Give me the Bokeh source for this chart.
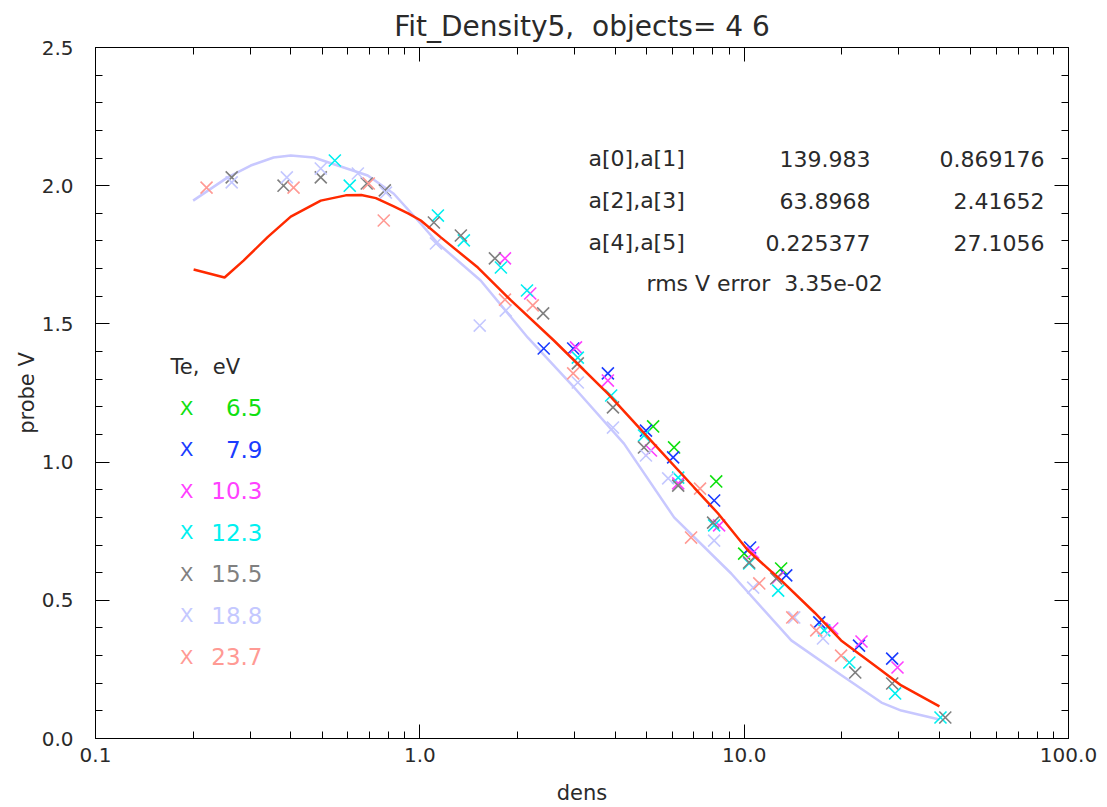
from bokeh.plotting import figure
from bokeh.models import Range1d, FixedTicker, PrintfTickFormatter, LinearAxis, LogAxis, Label
from bokeh.embed import file_html
from bokeh.resources import INLINE

# ---------------- data ----------------
TITLE = "Fit_Density5,\u00a0 objects= 4 6"
X_LABEL = "dens"
Y_LABEL = "probe V"
LEGEND_TITLE = "Te,\u00a0 eV"
TE_LABELS = ["6.5", "7.9", "10.3", "12.3", "15.5", "18.8", "23.7"]
COLORS = ["#10e010", "#1a3cff", "#ff40ff", "#00f0f0", "#808080", "#c4c8ff", "#ff9a94"]

X_TICKS = [0.1, 1.0, 10.0, 100.0]
Y_TICKS = [0.0, 0.5, 1.0, 1.5, 2.0, 2.5]

DENS_65 = [5.24, 6.08, 8.20, 10.0, 13.0]
V_65 = [1.129, 1.053, 0.930, 0.669, 0.615]

DENS_79 = [2.41, 2.97, 3.80, 4.98, 6.04, 8.08, 10.43, 13.48, 17.04, 22.6, 28.6]
V_79 = [1.411, 1.411, 1.321, 1.114, 1.017, 0.861, 0.691, 0.590, 0.420, 0.336, 0.289]

DENS_103 = [1.83, 2.19, 3.03, 3.80, 5.16, 6.26, 8.37, 10.66, 12.73, 18.69, 23.0, 29.7]
V_103 = [1.737, 1.610, 1.415, 1.295, 1.042, 0.923, 0.771, 0.673, 0.583, 0.398, 0.351, 0.257]

DENS_123 = [0.547, 0.608, 1.137, 1.367, 1.778, 2.14, 3.07, 3.89, 4.91, 6.26, 8.08, 10.36, 12.73, 17.66, 21.1, 29.2, 40.3]
V_123 = [2.091, 2.000, 1.892, 1.802, 1.704, 1.621, 1.378, 1.241, 1.096, 0.944, 0.771, 0.633, 0.535, 0.391, 0.275, 0.163, 0.076]

DENS_155 = [0.263, 0.380, 0.495, 0.686, 0.780, 1.105, 1.338, 1.704, 2.40, 3.07, 3.94, 4.91, 6.26, 8.02, 10.36, 12.56, 22.0, 28.6, 41.7]
V_155 = [2.030, 2.000, 2.030, 2.008, 1.983, 1.867, 1.820, 1.737, 1.538, 1.357, 1.198, 1.053, 0.915, 0.781, 0.637, 0.579, 0.239, 0.199, 0.076]

DENS_188 = [0.263, 0.389, 0.495, 0.644, 0.786, 1.121, 1.53, 1.84, 3.07, 3.94, 4.98, 5.83, 8.08, 10.66, 14.27, 17.5]
V_188 = [2.012, 2.030, 2.062, 2.044, 1.975, 1.791, 1.494, 1.548, 1.288, 1.125, 1.024, 0.941, 0.716, 0.546, 0.438, 0.362]

DENS_237 = [0.220, 0.408, 0.696, 0.774, 1.83, 2.23, 2.97, 6.86, 7.31, 11.13, 14.07, 16.68, 19.9]
V_237 = [1.993, 1.993, 2.008, 1.874, 1.588, 1.567, 1.321, 0.727, 0.904, 0.561, 0.438, 0.391, 0.300]

SERIES_DENS = [DENS_65, DENS_79, DENS_103, DENS_123, DENS_155, DENS_188, DENS_237]
SERIES_V = [V_65, V_79, V_103, V_123, V_155, V_188, V_237]

FIT_DENS = [0.2007, 0.25, 0.286, 0.34, 0.40, 0.495, 0.591, 0.66, 0.732, 0.831, 0.92, 1.007, 1.161,
            1.51, 1.91, 2.59, 3.80, 5.16, 7.01, 8.31, 10.28, 13.0, 16.5, 19.9, 26.5, 30.5, 40.0]
FIT_V = [1.697, 1.668, 1.729, 1.815, 1.888, 1.946, 1.965, 1.966, 1.955, 1.925, 1.900, 1.874, 1.813,
         1.704, 1.585, 1.440, 1.248, 1.078, 0.908, 0.814, 0.680, 0.572, 0.455, 0.355, 0.246, 0.192, 0.116]

MODEL_DENS = [0.2, 0.2555, 0.301, 0.354, 0.40, 0.471, 0.558, 0.691, 0.831, 1.007, 1.137, 1.54,
              2.15, 2.99, 4.26, 6.08, 9.12, 13.97, 19.9, 26.5, 30.5, 40.0]
MODEL_V = [1.946, 2.030, 2.073, 2.102, 2.109, 2.102, 2.073, 2.037, 1.971, 1.863, 1.791, 1.657,
           1.451, 1.270, 1.067, 0.800, 0.597, 0.355, 0.230, 0.130, 0.101, 0.069]

PARAM_NAMES = ["a[0],a[1]", "a[2],a[3]", "a[4],a[5]"]
PARAMS_A = ["139.983", "63.8968", "0.225377"]
PARAMS_B = ["0.869176", "2.41652", "27.1056"]
RMS_TEXT = "rms V error\u00a0 3.35e-02"

# ---------------- style ----------------
FONT = "DejaVu Sans"
TXT = "#2a2a2a"

# frame geometry in page pixels (used only to place text annotations)
W, H = 1107, 807
FL, FR, FT, FB = 95.0, 1068.0, 47.0, 738.0


def dx(px):
    return 10 ** ((px - FL) / ((FR - FL) / 3.0) - 1)


def dy(py):
    return (FB - py) / ((FB - FT) / 2.5)


p = figure(width=W, height=H, x_axis_type="log",
           x_range=Range1d(0.1, 100), y_range=Range1d(0, 2.5),
           output_backend="svg", toolbar_location=None, title=TITLE,
           min_border_left=int(FL), min_border_right=int(W - FR),
           min_border_top=int(FT), min_border_bottom=int(H - FB))
p.grid.visible = False
p.outline_line_color = "black"
p.background_fill_color = "white"
p.border_fill_color = "white"

p.title.text_font = FONT
p.title.text_font_size = "28px"
p.title.text_font_style = "normal"
p.title.text_color = TXT
p.title.align = "center"

x_minor = [m * d for d in (0.1, 1, 10) for m in range(2, 10)]
y_minor = [round(0.1 * i, 1) for i in range(26) if i % 5 != 0]


def style_axis(ax, show_labels):
    ax.axis_line_color = "black"
    ax.major_tick_line_color = "black"
    ax.minor_tick_line_color = "black"
    ax.major_tick_in = 14
    ax.major_tick_out = 0
    ax.minor_tick_in = 7
    ax.minor_tick_out = 0
    ax.major_label_text_font = FONT
    ax.major_label_text_color = TXT
    ax.axis_label_text_font = FONT
    ax.axis_label_text_font_style = "normal"
    ax.axis_label_text_color = TXT
    ax.axis_label_text_font_size = "21px"
    ax.major_label_text_font_size = "20px"
    if not show_labels:
        ax.major_label_text_font_size = "2px"
        ax.major_label_text_alpha = 0.0
        ax.major_label_standoff = 0


xa = p.xaxis[0]
xa.ticker = FixedTicker(ticks=X_TICKS, minor_ticks=x_minor)
xa.formatter = PrintfTickFormatter(format="%.1f")
xa.axis_label = X_LABEL
style_axis(xa, True)
xa.major_label_standoff = 9
xa.axis_label_standoff = 16

ya = p.yaxis[0]
ya.ticker = FixedTicker(ticks=Y_TICKS, minor_ticks=y_minor)
ya.formatter = PrintfTickFormatter(format="%.1f")
ya.axis_label = Y_LABEL
style_axis(ya, True)
ya.major_label_standoff = 22
ya.axis_label_standoff = 0

top = LogAxis(ticker=FixedTicker(ticks=X_TICKS, minor_ticks=x_minor))
style_axis(top, False)
p.add_layout(top, "above")

right = LinearAxis(ticker=FixedTicker(ticks=Y_TICKS, minor_ticks=y_minor))
style_axis(right, False)
p.add_layout(right, "right")

# model curve (light) then data then fit (red)
p.line(MODEL_DENS, MODEL_V, line_color="#c8c8ff", line_width=2.5)
for xs, ys, c in zip(SERIES_DENS, SERIES_V, COLORS):
    p.scatter(xs, ys, marker="x", size=17, line_color=c, line_width=1.6)
p.line(FIT_DENS, FIT_V, line_color="#ff2a00", line_width=2.5)

# legend (text)
p.add_layout(Label(x=dx(170), y=dy(366), text=LEGEND_TITLE, text_font=FONT, text_font_size="21px",
                   text_color=TXT, text_baseline="middle", text_align="left"))
for i, (lab, c) in enumerate(zip(TE_LABELS, COLORS)):
    yy = dy(407 + 41.5 * i)
    p.add_layout(Label(x=dx(186), y=yy, text="X", text_font=FONT, text_font_size="20px",
                       text_color=c, text_baseline="middle", text_align="center"))
    p.add_layout(Label(x=dx(262), y=yy, text=lab, text_font=FONT, text_font_size="23px",
                       text_color=c, text_baseline="middle", text_align="right"))

# fit parameter annotations
for i, (nm, a, b) in enumerate(zip(PARAM_NAMES, PARAMS_A, PARAMS_B)):
    yy = dy(158 + 42 * i)
    p.add_layout(Label(x=dx(588), y=yy, text=nm, text_font=FONT, text_font_size="22px",
                       text_color=TXT, text_baseline="middle", text_align="left"))
    p.add_layout(Label(x=dx(870), y=yy, text=a, text_font=FONT, text_font_size="22px",
                       text_color=TXT, text_baseline="middle", text_align="right"))
    p.add_layout(Label(x=dx(1044), y=yy, text=b, text_font=FONT, text_font_size="22px",
                       text_color=TXT, text_baseline="middle", text_align="right"))
p.add_layout(Label(x=dx(646), y=dy(283), text=RMS_TEXT, text_font=FONT, text_font_size="22px",
                   text_color=TXT, text_baseline="middle", text_align="left"))

open("out.html", "w").write(file_html(p, INLINE))
